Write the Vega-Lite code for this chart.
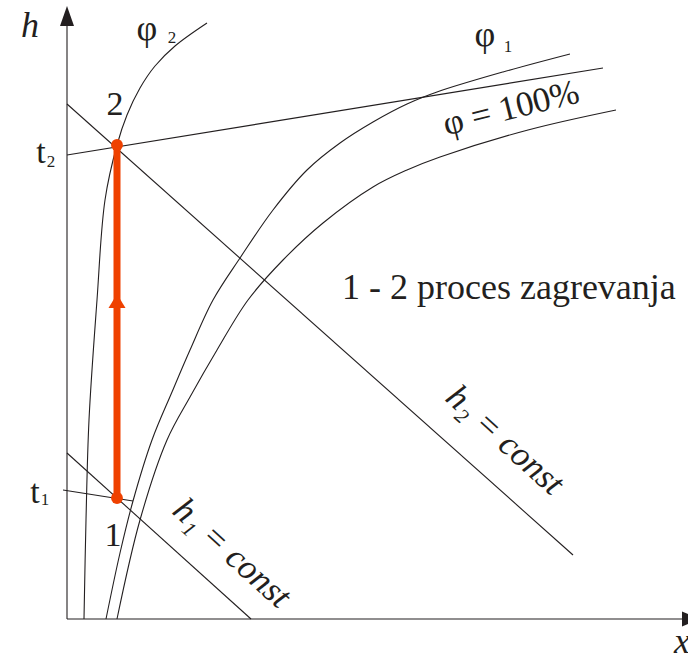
{
  "$schema": "https://vega.github.io/schema/vega-lite/v6.json",
  "width": 688,
  "height": 656,
  "autosize": {"type": "none"},
  "padding": 0,
  "background": "white",
  "config": {
    "view": {"stroke": null},
    "text": {"font": "Liberation Serif", "color": "#231f20"}
  },
  "datasets": {
    "lines": [
      {"id": "yaxis", "i": 0, "x": 0, "h": 0},
      {"id": "yaxis", "i": 1, "x": 0, "h": 596},
      {"id": "xaxis", "i": 0, "x": 0, "h": 0},
      {"id": "xaxis", "i": 1, "x": 616, "h": 0},
      {"id": "t2", "i": 0, "x": 0, "h": 464},
      {"id": "t2", "i": 1, "x": 536, "h": 551},
      {"id": "t1", "i": 0, "x": -4, "h": 129},
      {"id": "t1", "i": 1, "x": 66, "h": 118},
      {"id": "h2", "i": 0, "x": 0, "h": 515},
      {"id": "h2", "i": 1, "x": 506, "h": 64},
      {"id": "h1", "i": 0, "x": 0, "h": 166},
      {"id": "h1", "i": 1, "x": 184, "h": 0}
    ],
    "curves": [
      {"id": "phi2", "i": 0, "x": 17, "h": 0},
      {"id": "phi2", "i": 1, "x": 19, "h": 99},
      {"id": "phi2", "i": 2, "x": 22, "h": 199},
      {"id": "phi2", "i": 3, "x": 30, "h": 319},
      {"id": "phi2", "i": 4, "x": 38, "h": 419},
      {"id": "phi2", "i": 5, "x": 50, "h": 474},
      {"id": "phi2", "i": 6, "x": 60, "h": 504},
      {"id": "phi2", "i": 7, "x": 73, "h": 531},
      {"id": "phi2", "i": 8, "x": 88, "h": 553},
      {"id": "phi2", "i": 9, "x": 108, "h": 573},
      {"id": "phi2", "i": 10, "x": 140, "h": 596},
      {"id": "phi1", "i": 0, "x": 39, "h": 0},
      {"id": "phi1", "i": 1, "x": 53, "h": 66},
      {"id": "phi1", "i": 2, "x": 66, "h": 118},
      {"id": "phi1", "i": 3, "x": 85, "h": 179},
      {"id": "phi1", "i": 4, "x": 105, "h": 227},
      {"id": "phi1", "i": 5, "x": 123, "h": 269},
      {"id": "phi1", "i": 6, "x": 146, "h": 319},
      {"id": "phi1", "i": 7, "x": 173, "h": 361},
      {"id": "phi1", "i": 8, "x": 206, "h": 409},
      {"id": "phi1", "i": 9, "x": 240, "h": 449},
      {"id": "phi1", "i": 10, "x": 273, "h": 476},
      {"id": "phi1", "i": 11, "x": 306, "h": 497},
      {"id": "phi1", "i": 12, "x": 340, "h": 515},
      {"id": "phi1", "i": 13, "x": 370, "h": 527},
      {"id": "phi1", "i": 14, "x": 436, "h": 547},
      {"id": "phi1", "i": 15, "x": 503, "h": 565},
      {"id": "phi100", "i": 0, "x": 50, "h": 0},
      {"id": "phi100", "i": 1, "x": 73, "h": 99},
      {"id": "phi100", "i": 2, "x": 100, "h": 179},
      {"id": "phi100", "i": 3, "x": 123, "h": 222},
      {"id": "phi100", "i": 4, "x": 150, "h": 269},
      {"id": "phi100", "i": 5, "x": 181, "h": 319},
      {"id": "phi100", "i": 6, "x": 216, "h": 359},
      {"id": "phi100", "i": 7, "x": 256, "h": 396},
      {"id": "phi100", "i": 8, "x": 306, "h": 432},
      {"id": "phi100", "i": 9, "x": 340, "h": 449},
      {"id": "phi100", "i": 10, "x": 373, "h": 462},
      {"id": "phi100", "i": 11, "x": 461, "h": 489},
      {"id": "phi100", "i": 12, "x": 549, "h": 509}
    ],
    "process": [
      {"state": "1", "i": 0, "x": 50, "h": 121},
      {"state": "2", "i": 1, "x": 50, "h": 474}
    ],
    "arrows": [
      {"id": "yarrow", "x": 0, "h": 603},
      {"id": "xarrow", "x": 624, "h": 0},
      {"id": "procarrow", "x": 50, "h": 315}
    ],
    "labels": [
      {"role": "main", "text": "t", "x": -26, "h": 456},
      {"role": "sub", "text": "2", "x": -16, "h": 452},
      {"role": "main", "text": "t", "x": -32, "h": 116},
      {"role": "sub", "text": "1", "x": -22, "h": 114},
      {"role": "main", "text": "2", "x": 48, "h": 504},
      {"role": "main", "text": "1", "x": 46, "h": 73},
      {"role": "phi", "text": "φ", "x": 80, "h": 579},
      {"role": "sub", "text": "2", "x": 105, "h": 576},
      {"role": "phi", "text": "φ", "x": 418, "h": 573},
      {"role": "sub", "text": "1", "x": 441, "h": 567},
      {"role": "axis", "text": "h", "x": -37, "h": 582},
      {"role": "axis", "text": "x", "x": 615, "h": -34},
      {"role": "note", "text": "1 - 2 proces zagrevanja", "x": 275, "h": 320},
      {"role": "sat", "text": "φ = 100%", "x": 444, "h": 511},
      {"role": "const", "text": "h₁ = const", "x": 165, "h": 66},
      {"role": "const", "text": "h₂ = const", "x": 438, "h": 179}
    ]
  },
  "encoding": {
    "x": {"field": "x", "type": "quantitative", "scale": {"domain": [-67, 621], "nice": false, "zero": false}, "axis": null},
    "y": {"field": "h", "type": "quantitative", "scale": {"domain": [-37, 619], "nice": false, "zero": false}, "axis": null}
  },
  "layer": [
    {
      "data": {"name": "lines"},
      "mark": {"type": "line", "color": "#231f20", "strokeWidth": 1.1},
      "encoding": {"detail": {"field": "id"}, "order": {"field": "i"}}
    },
    {
      "data": {"name": "curves"},
      "mark": {"type": "line", "color": "#231f20", "strokeWidth": 1.1, "interpolate": "catmull-rom"},
      "encoding": {"detail": {"field": "id"}, "order": {"field": "i"}}
    },
    {
      "data": {"name": "process"},
      "mark": {"type": "line", "color": "#ef4100", "strokeWidth": 7},
      "encoding": {"order": {"field": "i"}}
    },
    {
      "data": {"name": "process"},
      "mark": {"type": "point", "filled": true, "color": "#ef4100", "size": 140, "opacity": 1, "shape": "circle"}
    },
    {
      "data": {"name": "arrows"},
      "transform": [{"filter": "datum.id === 'yarrow'"}],
      "mark": {"type": "point", "filled": true, "color": "#231f20", "opacity": 1, "size": 400, "shape": "M0,-1L0.7,1L-0.7,1Z"}
    },
    {
      "data": {"name": "arrows"},
      "transform": [{"filter": "datum.id === 'xarrow'"}],
      "mark": {"type": "point", "filled": true, "color": "#231f20", "opacity": 1, "size": 324, "shape": "M1,0L-1,-0.83L-1,0.83Z"}
    },
    {
      "data": {"name": "arrows"},
      "transform": [{"filter": "datum.id === 'procarrow'"}],
      "mark": {"type": "point", "filled": true, "color": "#ef4100", "opacity": 1, "size": 400, "shape": "M0,-1L0.85,0.4L-0.85,0.4Z"}
    },
    {
      "data": {"name": "labels"},
      "transform": [{"filter": "datum.role === 'main'"}],
      "mark": {"type": "text", "fontSize": 34, "align": "center", "baseline": "alphabetic"},
      "encoding": {"text": {"field": "text"}}
    },
    {
      "data": {"name": "labels"},
      "transform": [{"filter": "datum.role === 'phi'"}],
      "mark": {"type": "text", "fontSize": 36, "align": "center", "baseline": "alphabetic"},
      "encoding": {"text": {"field": "text"}}
    },
    {
      "data": {"name": "labels"},
      "transform": [{"filter": "datum.role === 'sub'"}],
      "mark": {"type": "text", "fontSize": 17, "align": "center", "baseline": "alphabetic"},
      "encoding": {"text": {"field": "text"}}
    },
    {
      "data": {"name": "labels"},
      "transform": [{"filter": "datum.role === 'axis'"}],
      "mark": {"type": "text", "fontSize": 36, "fontStyle": "italic", "align": "center", "baseline": "alphabetic"},
      "encoding": {"text": {"field": "text"}}
    },
    {
      "data": {"name": "labels"},
      "transform": [{"filter": "datum.role === 'note'"}],
      "mark": {"type": "text", "fontSize": 36, "align": "left", "baseline": "alphabetic"},
      "encoding": {"text": {"field": "text"}}
    },
    {
      "data": {"name": "labels"},
      "transform": [{"filter": "datum.role === 'sat'"}],
      "mark": {"type": "text", "fontSize": 35, "align": "center", "baseline": "middle", "angle": -14},
      "encoding": {"text": {"field": "text"}}
    },
    {
      "data": {"name": "labels"},
      "transform": [{"filter": "datum.role === 'const'"}],
      "mark": {"type": "text", "fontSize": 35, "fontStyle": "italic", "align": "center", "baseline": "middle", "angle": 42},
      "encoding": {"text": {"field": "text"}}
    }
  ]
}
